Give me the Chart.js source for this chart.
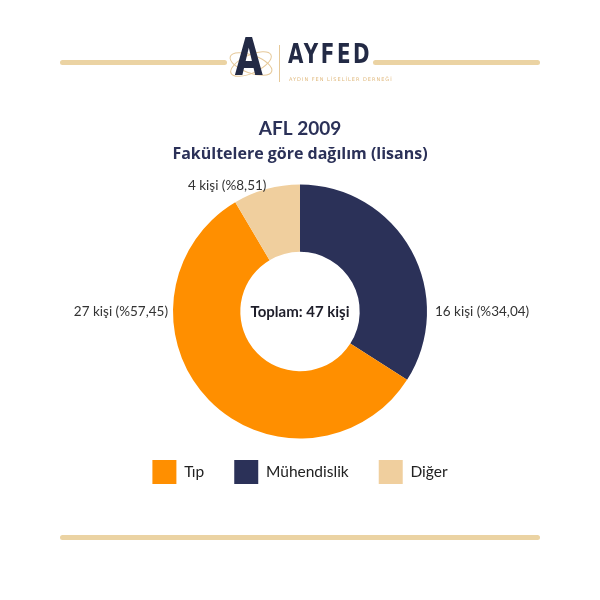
<!DOCTYPE html>
<html>
<head>
<meta charset="utf-8">
<script src="https://cdn.jsdelivr.net/npm/chart.js@4/dist/chart.umd.min.js"></script>
<style>
  html, body { margin: 0; padding: 0; background: #ffffff; }
  #wrap { position: relative; width: 600px; height: 600px; overflow: hidden; }
  #c { position: absolute; left: 0; top: 0; }
  .rule { position: absolute; height: 5px; border-radius: 3px; background: #EBD3A3; }
  #logoA { position: absolute; left: 235px; top: 30px; font-family: "Roboto", sans-serif; font-weight: 900; font-size: 54px; color: #232A45; line-height: 1; transform: scaleX(0.75); transform-origin: left top; }
  #orbit { position: absolute; left: 226px; top: 44px; }
  #vbar { position: absolute; left: 279px; top: 45px; width: 1px; height: 37px; background: #E6C99A; }
  #brand { position: absolute; left: 288px; top: 41px; font-family: "DejaVu Sans Condensed", "DejaVu Sans", sans-serif; font-weight: bold; font-size: 26px; letter-spacing: 3px; color: #232A45; line-height: 1; transform: scaleX(0.85); transform-origin: left top; }
  #tag { position: absolute; left: 289px; top: 76px; font-family: "DejaVu Sans", sans-serif; font-size: 5px; letter-spacing: 1px; color: #E0B97E; white-space: nowrap; }
</style>
</head>
<body>
<div id="wrap">
  <canvas id="c" width="600" height="600"></canvas>
  <div class="rule" style="left:60px; top:60px; width:167px;"></div>
  <div class="rule" style="left:373px; top:60px; width:167px;"></div>
  <div class="rule" style="left:60px; top:535px; width:480px;"></div>
  <svg id="orbit" width="50" height="40" viewBox="0 0 50 40">
    <ellipse cx="25" cy="20" rx="22" ry="9" fill="none" stroke="#E6C99A" stroke-width="1" transform="rotate(20 25 20)"/>
    <ellipse cx="25" cy="20" rx="22" ry="9" fill="none" stroke="#E6C99A" stroke-width="1" transform="rotate(-25 25 20)"/>
  </svg>
  <div id="logoA">A</div>
  <div id="vbar"></div>
  <div id="brand">AYFED</div>
  <div id="tag">AYDIN FEN LİSELİLER DERNEĞİ</div>
</div>
<script>
// ---- data ----
const categories = ['Mühendislik', 'Tıp', 'Diğer'];      // drawing order (clockwise from top)
const counts = [16, 27, 4];
const sliceColors = ['#2B3158', '#FF8F00', '#F0CF9E'];
const legendOrder = ['Tıp', 'Mühendislik', 'Diğer'];
const titleText = 'AFL 2009';
const subtitleText = 'Fakültelere göre dağılım (lisans)';
const unitWord = 'kişi';
const totalWord = 'Toplam';

const FONT = 'Lato, "Open Sans", sans-serif';
const total = counts.reduce((a, b) => a + b, 0);

function pct(v) {
  return (v / total * 100).toFixed(2).replace('.', ',');
}

const outsideLabels = {
  id: 'outsideLabels',
  afterDatasetsDraw(chart) {
    const ctx = chart.ctx;
    const meta = chart.getDatasetMeta(0);
    ctx.save();
    ctx.font = '13.5px ' + FONT;
    ctx.fillStyle = '#333333';
    ctx.textBaseline = 'middle';
    meta.data.forEach((arc, i) => {
      const p = arc.getProps(['x', 'y', 'startAngle', 'endAngle', 'outerRadius'], true);
      const s = p.startAngle, e = p.endAngle;
      const contains = (ang) => {
        let a = ang;
        while (a < s) a += 2 * Math.PI;
        return a <= e;
      };
      const txt = counts[i] + ' ' + unitWord + ' (%' + pct(counts[i]) + ')';
      let x, y;
      if (contains(0)) {
        x = p.x + p.outerRadius + 8; y = p.y; ctx.textAlign = 'left';
      } else if (contains(Math.PI)) {
        x = p.x - p.outerRadius - 5; y = p.y; ctx.textAlign = 'right';
      } else {
        const mid = (s + e) / 2;
        x = p.x + Math.cos(mid) * p.outerRadius;
        y = p.y + Math.sin(mid) * p.outerRadius - 3;
        ctx.textAlign = Math.cos(mid) < 0 ? 'right' : 'left';
      }
      ctx.fillText(txt, x, y);
    });
    // center total
    const a0 = meta.data[0];
    ctx.font = 'bold 15px ' + FONT;
    ctx.fillStyle = '#1E1E2A';
    ctx.textAlign = 'center';
    ctx.fillText(totalWord + ': ' + total + ' ' + unitWord, a0.x, a0.y + 1);
    ctx.restore();
  }
};

new Chart(document.getElementById('c'), {
  type: 'doughnut',
  data: {
    labels: categories,
    datasets: [{
      data: counts,
      backgroundColor: sliceColors,
      borderWidth: 0,
      hoverOffset: 0
    }]
  },
  options: {
    responsive: false,
    animation: false,
    radius: 127,
    cutout: '47%',
    layout: { padding: { top: 117, bottom: 106, left: 0, right: 0 } },
    plugins: {
      title: {
        display: true,
        text: titleText,
        color: '#2B3158',
        font: { family: FONT, size: 19, weight: 'bold', lineHeight: 1.2 },
        padding: { top: 0, bottom: 4 }
      },
      subtitle: {
        display: true,
        text: subtitleText,
        color: '#2B3158',
        font: { family: '"Open Sans", Lato, sans-serif', size: 16, weight: 'bold', lineHeight: 1.2 },
        padding: { top: 1, bottom: 29 }
      },
      legend: {
        position: 'bottom',
        labels: {
          boxWidth: 24,
          boxHeight: 24,
          padding: 30,
          color: '#222222',
          font: { family: FONT, size: 15.5 },
          sort: (a, b) => legendOrder.indexOf(a.text) - legendOrder.indexOf(b.text)
        }
      },
      tooltip: { enabled: false }
    }
  },
  plugins: [outsideLabels]
});
</script>
</body>
</html>
